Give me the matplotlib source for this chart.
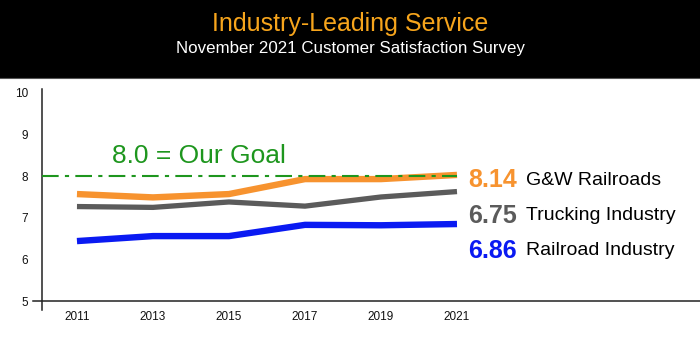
import matplotlib.pyplot as plt
from matplotlib.patches import Rectangle

plt.rcParams['font.family'] = ['Liberation Sans', 'DejaVu Sans']

years = [2011, 2013, 2015, 2017, 2019, 2021]
gw = [7.57, 7.49, 7.57, 7.93, 7.93, 8.03]
trucking = [7.27, 7.25, 7.38, 7.28, 7.50, 7.63]
railroad = [6.44, 6.56, 6.56, 6.83, 6.82, 6.85]
goal = 8.0
yticks = [5, 6, 7, 8, 9, 10]

labels = ['G&W Railroads', 'Trucking Industry', 'Railroad Industry']
scores = ['8.14', '6.75', '6.86']
colors = ['#F7932F', '#5B5B5B', '#0A1AF2']
green = '#1E961E'


def main():
    fig = plt.figure(figsize=(7, 3.5), dpi=100)

    # black header
    fig.patches.append(Rectangle((0, 1 - 78/350), 1, 78/350, transform=fig.transFigure,
                                 facecolor='black', edgecolor='none', zorder=0))
    fig.lines.append(plt.Line2D([0, 1], [1 - 78/350, 1 - 78/350], transform=fig.transFigure,
                                color='#555555', lw=0.8))
    fig.text(0.5, 1 - 24/350, 'Industry-Leading Service', color='#F7A51C',
             fontsize=18, ha='center', va='center')
    fig.text(0.5, 1 - 49/350, 'November 2021 Customer Satisfaction Survey', color='white',
             fontsize=12.2, ha='center', va='center')

    ax = fig.add_axes([42/700, 49/350, 658/700, (301 - 88.8)/350])
    ax.set_xlim(2010.08, 2021 + 243/38)
    ax.set_ylim(5, 10.1)

    ax.plot(years, railroad, color=colors[2], lw=4.6, solid_capstyle='butt', zorder=3)
    ax.plot(years, trucking, color=colors[1], lw=3.8, solid_capstyle='butt', zorder=3)
    ax.plot(years, gw, color=colors[0], lw=4.6, solid_capstyle='butt', zorder=3)
    ax.plot([ax.get_xlim()[0], years[-1]], [goal, goal], color=green, lw=1.5,
            ls=(0, (8, 3, 2, 3)), zorder=4)

    ax.text(2011.92, 8.49, '8.0 = Our Goal', color=green, fontsize=19, va='center', ha='left')

    ys = [7.90, 7.05, 6.21]
    for s, lab, c, y in zip(scores, labels, colors, ys):
        ax.text(2021.3, y, s, color=c, fontsize=18, fontweight='bold', va='center', ha='left')
        ax.text(2022.81, y, lab, color='black', fontsize=14, va='center', ha='left')

    for sp in ax.spines.values():
        sp.set_visible(False)
    # crossed axis lines
    ax.plot([-9/658, 1], [0, 0], transform=ax.transAxes, color='#222222', lw=1.1, clip_on=False)
    ax.plot([0, 0], [-9/212, 1], transform=ax.transAxes, color='#222222', lw=1.1, clip_on=False)

    ax.set_xticks(years)
    ax.set_xticklabels([str(y) for y in years])
    ax.set_yticks(yticks)
    ax.set_yticklabels([str(t) for t in yticks])
    ax.tick_params(axis='both', length=0, labelsize=8.5, colors='#111111')
    ax.tick_params(axis='y', pad=10)
    ax.tick_params(axis='x', pad=7)

    fig.savefig('out.png', dpi=100)


if __name__ == '__main__':
    main()
